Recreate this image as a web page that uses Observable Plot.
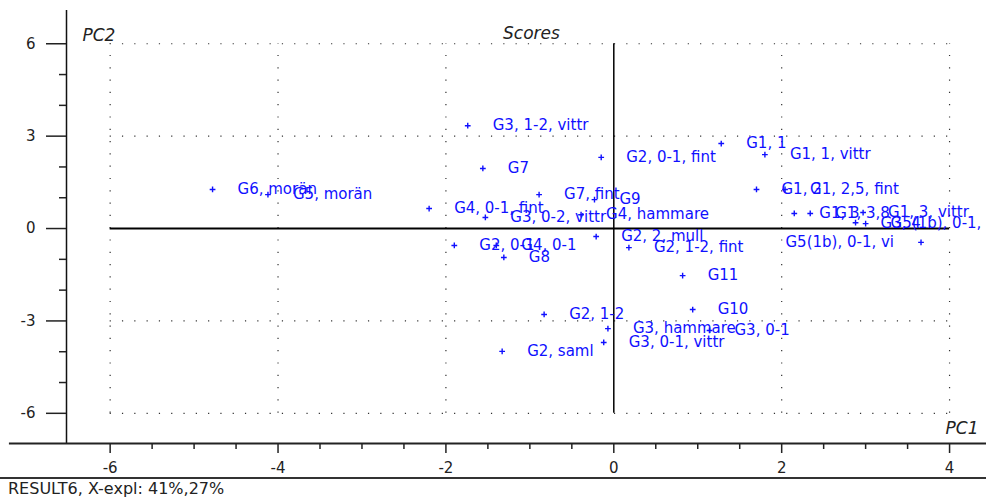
<!DOCTYPE html>
<html><head><meta charset="utf-8">
<script src="https://cdn.jsdelivr.net/npm/d3@7"></script>
<script src="https://cdn.jsdelivr.net/npm/@observablehq/plot@0.6"></script>
<style>
body{margin:0;background:#fff;font-family:"DejaVu Sans",sans-serif;}
#footer{border-top:2px solid #333;width:986px;height:21px;font-size:16px;line-height:20px;padding-left:8px;box-sizing:border-box;color:#222;font-family:"DejaVu Sans",sans-serif;}
</style></head><body>
<div id="chart"></div>
<div id="footer">RESULT6, X-expl: 41%,27%</div>
<script>
const sampleLabels = [
  "G6, morän","G5, morän","G3, 1-2, vittr","G7","G2, 0-1, fint","G1, 1","G1, 1, vittr",
  "G4, 0-1, fint","G3, 0-2, vittr","G7, fint","G9","G4, hammare","G2, 2, mull","G2, 1-2, fint",
  "G2, 0-1","G4, 0-1","G8","G11","G10","G3, hammare","G3, 0-1, vittr","G2, 1-2","G2, saml",
  "G3, 0-1","G1, 2","G1, 2,5, fint","G1, 3","G1, 3,8","G1, 3, vittr","G3, 4","G5(1b), 0-1, fint","G5(1b), 0-1, vi"
];
const pc1Scores = [
  -4.78,-4.12,-1.74,-1.56,-0.15,1.28,1.80,
  -2.20,-1.53,-0.89,-0.23,-0.39,-0.21,0.18,
  -1.90,-1.40,-1.31,0.82,0.94,-0.07,-0.12,-0.83,-1.33,
  1.14,1.70,2.04,2.15,2.34,2.97,2.88,3.00,3.66
];
const pc2Scores = [
  1.27,1.10,3.34,1.95,2.31,2.76,2.40,
  0.65,0.36,1.10,0.94,0.45,-0.26,-0.62,
  -0.55,-0.55,-0.94,-1.53,-2.63,-3.25,-3.70,-2.79,-3.99,
  -3.31,1.27,1.27,0.49,0.49,0.52,0.19,0.16,-0.45
];
const xMajorTicks = [-6,-4,-2,0,2,4];
const yMajorTicks = [-6,-3,0,3,6];
const xGrid = [-6,-4,-2,2,4];
const yGrid = [-6,-3,3,6];
const xDomain = [-6.52, 4.44];
const yDomain = [-6.98, 7.08];

const points = sampleLabels.map((label, i) => ({label, pc1: pc1Scores[i], pc2: pc2Scores[i]}));
const xMinor = d3.range(-6, 4.01, 0.5).filter(v => !xMajorTicks.includes(v));
const yMinor = d3.range(-6, 6.01, 1).filter(v => !yMajorTicks.includes(v));
const blue = "#1010ff";
const fmt = d => (d < 0 ? "-" + Math.abs(d) : String(d));
const dots = "1.2,11.1";

const chart = Plot.plot({
  width: 986, height: 477,
  marginLeft: 66, marginRight: 0, marginTop: 10, marginBottom: 34,
  style: {fontFamily: "DejaVu Sans, sans-serif", background: "#fff", color: "#222"},
  x: {domain: xDomain},
  y: {domain: yDomain},
  marks: [
    Plot.ruleX(xGrid, {y1: -6, y2: 6, stroke: "#333", strokeWidth: 1.2, strokeDasharray: dots}),
    Plot.ruleY(yGrid, {x1: -6, x2: 4, stroke: "#333", strokeWidth: 1.2, strokeDasharray: dots}),
    Plot.ruleY([0], {x1: -6, x2: 4, stroke: "#000", strokeWidth: 2}),
    Plot.ruleX([0], {y1: -6, y2: 6, stroke: "#000", strokeWidth: 1.5}),
    Plot.ruleX([xDomain[0]], {stroke: "#111", strokeWidth: 1.5}),
    Plot.ruleY([yDomain[0]], {x1: -7.2, x2: xDomain[1], stroke: "#222", strokeWidth: 2}),
    Plot.axisX(xMajorTicks, {tickSize: 10, tickPadding: 9, fontSize: 15, tickFormat: fmt, strokeWidth: 1.5, label: null}),
    Plot.axisX(xMinor, {tickSize: 6, text: null, strokeWidth: 1.5, label: null}),
    Plot.axisY(yMajorTicks, {tickSize: 20, tickPadding: 11, fontSize: 15, tickFormat: fmt, strokeWidth: 1.5, label: null}),
    Plot.axisY(yMinor, {tickSize: 7, text: null, strokeWidth: 1.5, label: null}),
    Plot.dot(points, {x: "pc1", y: "pc2", symbol: "plus", r: 2, stroke: blue, strokeWidth: 1.4}),
    Plot.text(points.filter(d => d.pc1 <= 3.5), {x: "pc1", y: "pc2", text: "label", dx: 25, textAnchor: "start", fill: blue, fontSize: 15}),
    Plot.text(points.filter(d => d.pc1 > 3.5), {x: "pc1", y: "pc2", text: "label", dx: -27, textAnchor: "end", fill: blue, fontSize: 15}),
    Plot.text(["Scores"], {frameAnchor: "top", dx: 5, dy: 16, fontSize: 17, fontStyle: "italic", fill: "#222"}),
    Plot.text(["PC2"], {frameAnchor: "top-left", dx: 16, dy: 18, textAnchor: "start", fontSize: 17, fontStyle: "italic", fill: "#222"}),
    Plot.text(["PC1"], {frameAnchor: "bottom-right", dx: -8, dy: -10, textAnchor: "end", fontSize: 17, fontStyle: "italic", fill: "#222"})
  ]
});
document.getElementById("chart").appendChild(chart);
</script>
</body></html>
